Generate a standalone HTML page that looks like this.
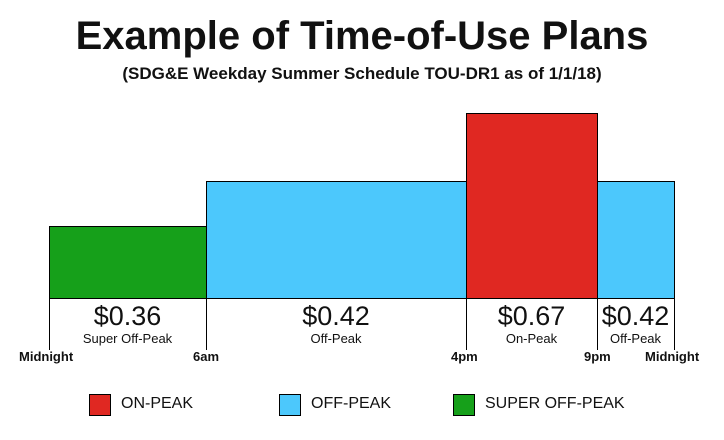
<!DOCTYPE html>
<html><head><style>
body{margin:0;width:724px;height:440px;background:#fff;overflow:hidden;font-family:"Liberation Sans",sans-serif;position:relative}
div{position:absolute}
.t{left:0;width:724px;text-align:center;font-weight:bold;color:#111}
.bar{border:1px solid #000;box-sizing:border-box}
.v{width:1px;background:#000}
.p{text-align:center;font-size:27px;color:#111}
.s{text-align:center;font-size:13px;color:#111}
.ax{font-size:13px;font-weight:bold;color:#111;top:349px}
.lg{width:22px;height:22px;border:1px solid #000;box-sizing:border-box;top:394px}
.lt{top:395px;font-size:16px;color:#111}
</style></head><body>
<div class="t" style="top:14px;font-size:40px">Example of Time-of-Use Plans</div>
<div class="t" style="top:64px;font-size:17px">(SDG&amp;E Weekday Summer Schedule TOU-DR1 as of 1/1/18)</div>
<div class="bar" style="left:49px;top:226px;width:158px;height:73px;background:#16a01a"></div>
<div class="bar" style="left:206px;top:181px;width:261px;height:118px;background:#4cc8fc"></div>
<div class="bar" style="left:466px;top:113px;width:132px;height:186px;background:#e02822"></div>
<div class="bar" style="left:597px;top:181px;width:78px;height:118px;background:#4cc8fc"></div>
<div style="left:49px;top:298px;width:626px;height:1px;background:#000"></div>
<div class="v" style="left:49px;top:298px;height:52px"></div>
<div class="v" style="left:206px;top:298px;height:52px"></div>
<div class="v" style="left:466px;top:298px;height:52px"></div>
<div class="v" style="left:597px;top:298px;height:52px"></div>
<div class="v" style="left:674px;top:298px;height:52px"></div>
<div class="p" style="left:49px;width:157px;top:301px">$0.36</div>
<div class="s" style="left:49px;width:157px;top:331px">Super Off-Peak</div>
<div class="p" style="left:206px;width:260px;top:301px">$0.42</div>
<div class="s" style="left:206px;width:260px;top:331px">Off-Peak</div>
<div class="p" style="left:466px;width:131px;top:301px">$0.67</div>
<div class="s" style="left:466px;width:131px;top:331px">On-Peak</div>
<div class="p" style="left:597px;width:77px;top:301px">$0.42</div>
<div class="s" style="left:597px;width:77px;top:331px">Off-Peak</div>
<div class="ax" style="left:19px">Midnight</div>
<div class="ax" style="left:193px">6am</div>
<div class="ax" style="left:451px">4pm</div>
<div class="ax" style="left:584px">9pm</div>
<div class="ax" style="left:645px">Midnight</div>
<div class="lg" style="left:89px;background:#e02822"></div>
<div class="lt" style="left:121px">ON-PEAK</div>
<div class="lg" style="left:279px;background:#4cc8fc"></div>
<div class="lt" style="left:311px">OFF-PEAK</div>
<div class="lg" style="left:453px;background:#16a01a"></div>
<div class="lt" style="left:485px">SUPER OFF-PEAK</div>
</body></html>
